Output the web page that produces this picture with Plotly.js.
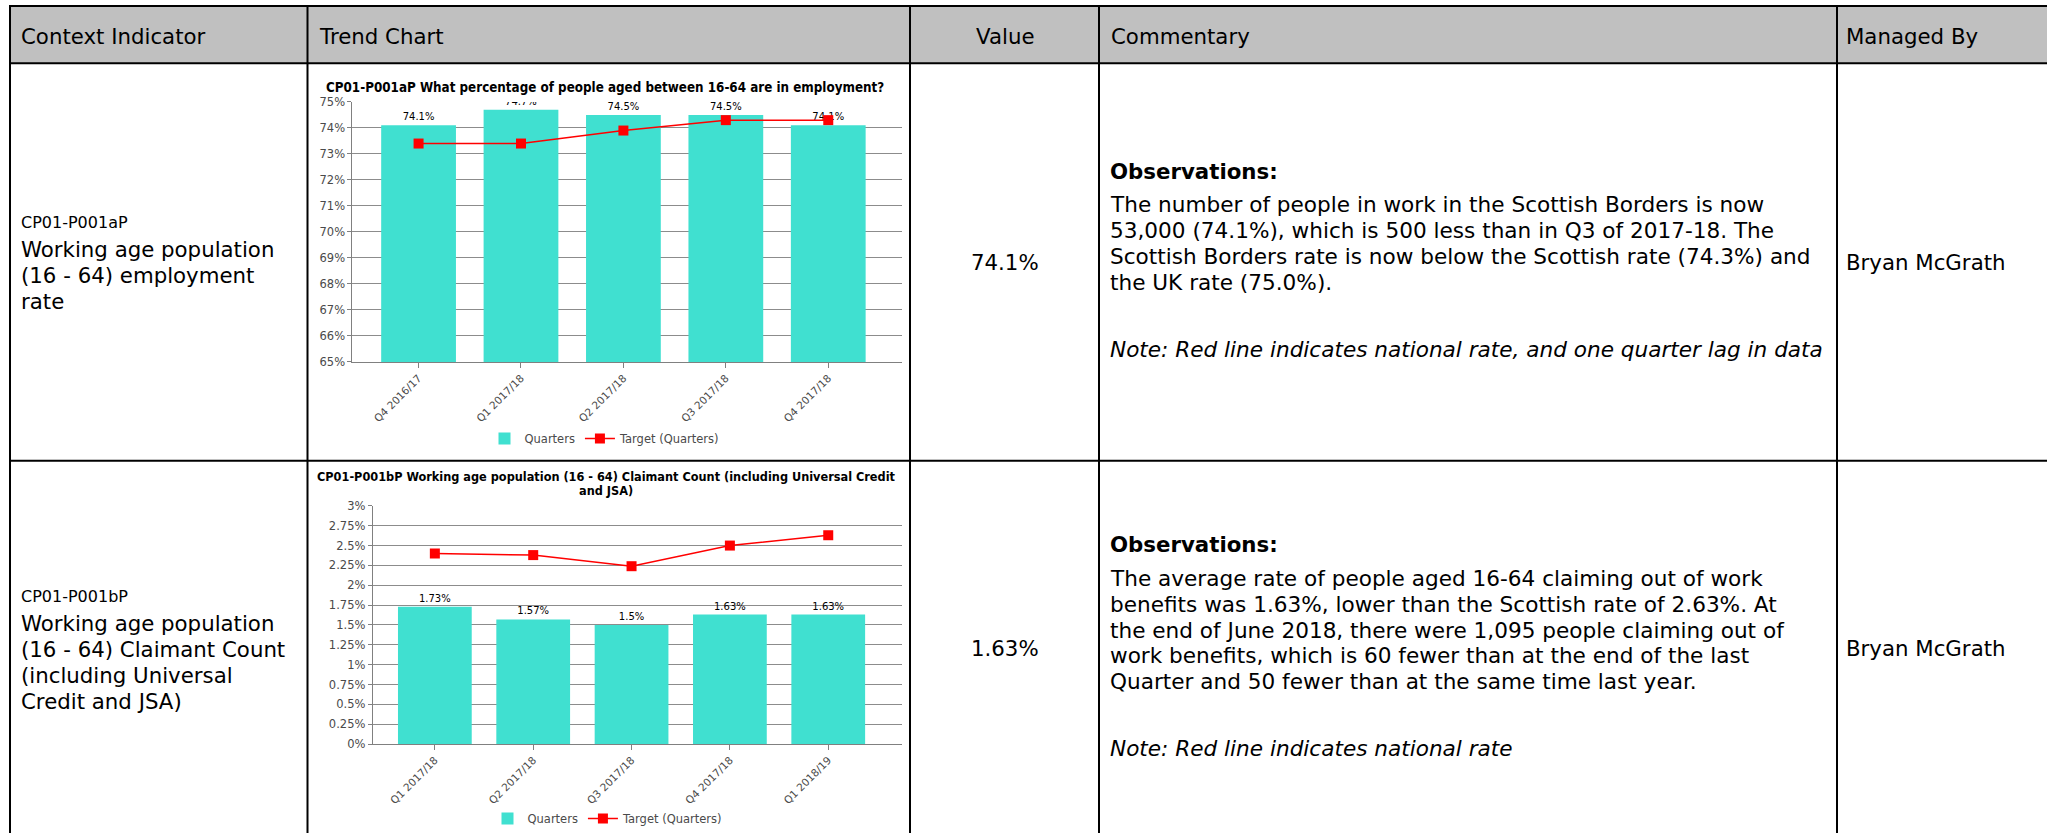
<!DOCTYPE html>
<html>
<head>
<meta charset="utf-8">
<script src="https://cdn.plot.ly/plotly-3.0.1.min.js"></script>
<style>
  html, body { margin: 0; padding: 0; background: #ffffff; }
  #page { width: 2047px; height: 833px; }
</style>
</head>
<body>
<div id="page"></div>
<script>
// ---------------- data ----------------
const quarters1 = ['Q4 2016/17', 'Q1 2017/18', 'Q2 2017/18', 'Q3 2017/18', 'Q4 2017/18'];
const employmentRate = [74.1, 74.7, 74.5, 74.5, 74.1];
const employmentTarget = [73.4, 73.4, 73.9, 74.3, 74.3];
const yTicks1 = [65, 66, 67, 68, 69, 70, 71, 72, 73, 74, 75];
const yTickLabels1 = ['65%', '66%', '67%', '68%', '69%', '70%', '71%', '72%', '73%', '74%', '75%'];

const quarters2 = ['Q1 2017/18', 'Q2 2017/18', 'Q3 2017/18', 'Q4 2017/18', 'Q1 2018/19'];
const claimantRate = [1.73, 1.57, 1.5, 1.63, 1.63];
const claimantTarget = [2.4, 2.38, 2.24, 2.5, 2.63];
const yTicks2 = [0, 0.25, 0.5, 0.75, 1, 1.25, 1.5, 1.75, 2, 2.25, 2.5, 2.75, 3];
const yTickLabels2 = ['0%', '0.25%', '0.5%', '0.75%', '1%', '1.25%', '1.5%', '1.75%', '2%', '2.25%', '2.5%', '2.75%', '3%'];

const seriesNames = ['Quarters', 'Target (Quarters)'];
const chartTitles = [
  'CP01-P001aP What percentage of people aged between 16-64 are in employment?',
  'CP01-P001bP Working age population (16 - 64) Claimant Count (including Universal Credit',
  'and JSA)'
];

const headerLabels = ['Context Indicator', 'Trend Chart', 'Value', 'Commentary', 'Managed By'];
const indicatorCodes = ['CP01-P001aP', 'CP01-P001bP'];
const indicatorNames = [
  ['Working age population', '(16 - 64) employment', 'rate'],
  ['Working age population', '(16 - 64) Claimant Count', '(including Universal', 'Credit and JSA)']
];
const indicatorValues = ['74.1%', '1.63%'];
const commentaryHeading = 'Observations:';
const commentaryLines = [
  ['The number of people in work in the Scottish Borders is now',
   '53,000 (74.1%), which is 500 less than in Q3 of 2017-18. The',
   'Scottish Borders rate is now below the Scottish rate (74.3%) and',
   'the UK rate (75.0%).'],
  ['The average rate of people aged 16-64 claiming out of work',
   'benefits was 1.63%, lower than the Scottish rate of 2.63%. At',
   'the end of June 2018, there were 1,095 people claiming out of',
   'work benefits, which is 60 fewer than at the end of the last',
   'Quarter and 50 fewer than at the same time last year.']
];
const commentaryNotes = [
  'Note: Red line indicates national rate, and one quarter lag in data',
  'Note: Red line indicates national rate'
];
const managers = ['Bryan McGrath', 'Bryan McGrath'];

// ---------------- layout helpers ----------------
const W = 2047, H = 833;
const px = x => x / W;
const py = y => 1 - y / H;
const BODY_FONT = 'DejaVu Sans, Verdana, sans-serif';
const CHART_FONT = 'DejaVu Sans, Tahoma, sans-serif';
const TITLE_FONT = 'DejaVu Sans Condensed, DejaVu Sans, sans-serif';
const TEAL = '#40E0D0';
const RED = '#FF0000';
const AXIS_GREY = '#808080';
const GRID_GREY = '#8c8c8c';
const TICK_TEXT = '#4a4a4a';

function note(x, y, text, size, anchor, family, color) {
  return {
    xref: 'paper', yref: 'paper', x: px(x), y: py(y), text: text,
    showarrow: false, xanchor: anchor || 'left', yanchor: 'middle',
    align: anchor === 'center' ? 'center' : 'left',
    borderpad: 0, borderwidth: 0,
    font: { family: family || BODY_FONT, size: size, color: color || '#000000' }
  };
}

// table geometry
const colX = [10, 307.5, 910, 1099, 1837];
const rowY = [6, 63.5, 462.5];
const rowCenters = [263, 651];

const shapes = [];
shapes.push({ type: 'rect', xref: 'paper', yref: 'paper', layer: 'below',
  x0: px(colX[0]), x1: px(W + 5), y0: py(rowY[0]), y1: py(rowY[1]),
  fillcolor: '#c0c0c0', line: { width: 0 } });
rowY.forEach(y => shapes.push({ type: 'line', xref: 'paper', yref: 'paper',
  x0: px(colX[0] - 1), x1: px(W + 5), y0: py(y), y1: py(y), line: { color: '#000000', width: 2 } }));
colX.forEach(x => shapes.push({ type: 'line', xref: 'paper', yref: 'paper',
  x0: px(x), x1: px(x), y0: py(rowY[0] - 1), y1: py(H + 5), line: { color: '#000000', width: 2 } }));

const annotations = [];
const FS = 21.3;
const CFS = 21.6;
const LH = 26;

// header
const headerX = [20.5, 318.5, 1004.5, 1111, 1846];
headerLabels.forEach((t, i) => annotations.push(
  note(headerX[i], 37, t, FS, i === 2 ? 'center' : 'left')));

// rows
indicatorCodes.forEach((code, r) => {
  const names = indicatorNames[r];
  const span = 27.5 + (names.length - 1) * LH;
  const top = rowCenters[r] - span / 2;
  annotations.push(note(21, top, code, 16));
  names.forEach((n, k) => annotations.push(note(21, top + 27.5 + k * LH, n, FS)));

  annotations.push(note(1004.5, rowCenters[r], indicatorValues[r], FS, 'center'));
  annotations.push(note(1846, rowCenters[r], managers[r], FS));

  const lines = commentaryLines[r];
  const cspan = 33.6 + (lines.length - 1) * LH + 67.2;
  const ctop = rowCenters[r] - 1.9 - cspan / 2;
  annotations.push(note(1110, ctop, '<b>' + commentaryHeading + '</b>', FS));
  lines.forEach((l, k) => annotations.push(note(1110, ctop + 33.6 + k * LH, l, CFS)));
  annotations.push(note(1110, ctop + 33.6 + (lines.length - 1) * LH + 67.2,
    '<i>' + commentaryNotes[r] + '</i>', CFS));
});

// chart titles
annotations.push(note(604.5, 88.3, '<b>' + chartTitles[0] + '</b>', 13.3, 'center', TITLE_FONT));
annotations.push(note(606, 478.3, '<b>' + chartTitles[1] + '</b>', 12.6, 'center', TITLE_FONT));
annotations.push(note(606, 492.7, '<b>' + chartTitles[2] + '</b>', 12.6, 'center', TITLE_FONT));

// ---------------- traces ----------------
const pct = v => v + '%';
const traces = [
  { type: 'bar', x: quarters1, y: employmentRate, xaxis: 'x', yaxis: 'y',
    name: seriesNames[0], legend: 'legend', width: 0.73,
    marker: { color: TEAL, line: { width: 0 } },
    text: employmentRate.map(pct), textposition: 'outside', cliponaxis: true,
    textfont: { family: CHART_FONT, size: 10, color: '#000000' }, hoverinfo: 'skip' },
  { type: 'scatter', mode: 'lines+markers', x: quarters1, y: employmentTarget,
    xaxis: 'x', yaxis: 'y', name: seriesNames[1], legend: 'legend',
    line: { color: RED, width: 1.5 }, marker: { symbol: 'square', size: 10, color: RED },
    hoverinfo: 'skip', cliponaxis: false },
  { type: 'bar', x: quarters2, y: claimantRate, xaxis: 'x2', yaxis: 'y2',
    name: seriesNames[0], legend: 'legend2', width: 0.75,
    marker: { color: TEAL, line: { width: 0 } },
    text: claimantRate.map(pct), textposition: 'outside', cliponaxis: true,
    textfont: { family: CHART_FONT, size: 10, color: '#000000' }, hoverinfo: 'skip' },
  { type: 'scatter', mode: 'lines+markers', x: quarters2, y: claimantTarget,
    xaxis: 'x2', yaxis: 'y2', name: seriesNames[1], legend: 'legend2',
    line: { color: RED, width: 1.5 }, marker: { symbol: 'square', size: 10, color: RED },
    hoverinfo: 'skip', cliponaxis: false }
];

function xAxis(domain, anchor, range) {
  return { domain: domain, anchor: anchor, type: 'category', range: range,
    showline: true, linecolor: AXIS_GREY, linewidth: 1,
    ticks: 'outside', ticklen: 5, tickcolor: AXIS_GREY, tickwidth: 1,
    tickangle: -45, tickfont: { family: CHART_FONT, size: 10.5, color: TICK_TEXT },
    showgrid: false, zeroline: false, fixedrange: true, automargin: false };
}
function yAxis(domain, anchor, range, vals, labels) {
  return { domain: domain, anchor: anchor, range: range,
    tickmode: 'array', tickvals: vals, ticktext: labels,
    showline: true, linecolor: AXIS_GREY, linewidth: 1,
    ticks: 'outside', ticklen: 4, tickcolor: AXIS_GREY, tickwidth: 1,
    tickfont: { family: CHART_FONT, size: 11.5, color: TICK_TEXT },
    showgrid: true, gridcolor: GRID_GREY, gridwidth: 1,
    zeroline: false, fixedrange: true, automargin: false };
}
function legendAt(x, y) {
  return { x: px(x), y: py(y), xanchor: 'center', yanchor: 'middle',
    orientation: 'h', bgcolor: 'rgba(0,0,0,0)', borderwidth: 0,
    itemwidth: 30, tracegroupgap: 0,
    font: { family: CHART_FONT, size: 11.5, color: TICK_TEXT } };
}

const layout = {
  width: W, height: H, autosize: false,
  margin: { l: 0, r: 0, t: 0, b: 0, pad: 0 },
  paper_bgcolor: '#ffffff', plot_bgcolor: '#ffffff',
  showlegend: true,
  xaxis: xAxis([px(352.4), px(902)], 'y', [-0.646, 4.72]),
  yaxis: yAxis([py(363.3), py(102.3)], 'x', [65, 75], yTicks1, yTickLabels1),
  xaxis2: xAxis([px(372.7), px(902)], 'y2', [-0.632, 4.75]),
  yaxis2: yAxis([py(746.7), py(507.7)], 'x2', [0, 3], yTicks2, yTickLabels2),
  legend: legendAt(605, 440),
  legend2: legendAt(608, 821.7),
  shapes: shapes,
  annotations: annotations
};

Plotly.newPlot('page', traces, layout, { staticPlot: true, displayModeBar: false });
</script>
</body>
</html>
